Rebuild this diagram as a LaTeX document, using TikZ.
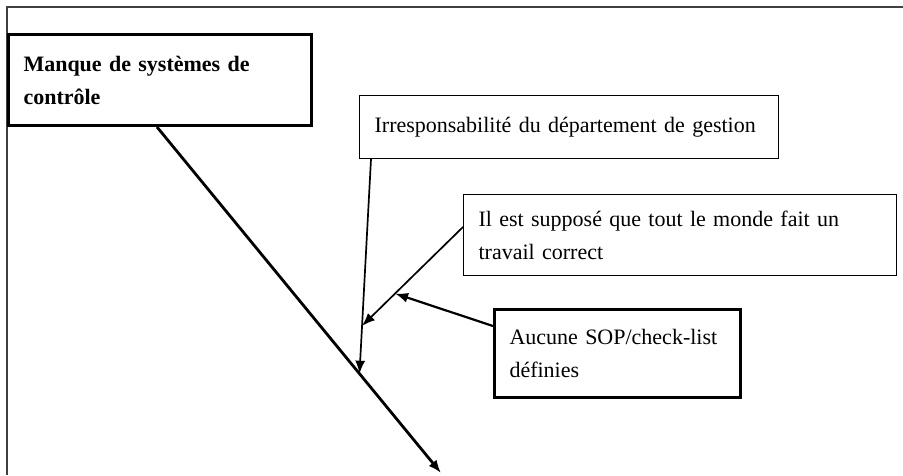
\documentclass[tikz,border=0pt]{standalone}
\usepackage{fontspec}
\setmainfont{Liberation Serif}
\usetikzlibrary{positioning, arrows.meta, calc}

\begin{document}
\begin{tikzpicture}[
        x=1pt, y=-1pt,
        cause/.style={rectangle, draw, line width=1.2pt, anchor=north west, align=left, inner xsep=15pt, inner ysep=0pt, font=\fontsize{22}{33}\selectfont},
        mainbox/.style={cause, line width=3pt, font=\bfseries\fontsize{22}{33}\selectfont},
        link/.style={-{Latex[length=13pt, width=10pt]}, line width=1.7pt}
    ]
    \useasboundingbox (0,0) rectangle (903,475);

    % Outer frame (right and bottom edges run off the page)
    \draw[line width=1.8pt, black!75] (7,475) -- (7,7) -- (903,7);

    % Cause boxes
    \node[mainbox, text width=273pt, minimum height=91pt] (lack) at (7,33) {Manque de systèmes de\\contrôle};
    \node[cause, text width=389pt, minimum height=63pt] (mgmt) at (359,95) {Irresponsabilité du département de gestion};
    \node[cause, text width=403pt, minimum height=81pt] (assume) at (463,194) {Il est supposé que tout le monde fait un\\travail correct};
    \node[cause, line width=3pt, text width=216pt, minimum height=88pt] (nosop) at (493,308) {Aucune SOP/check-list\\définies};

    % --------------------------------------------------
    % Spine and branches
    \coordinate (spineend) at (441,473);
    \draw[link, line width=2.8pt] ($(lack.south)+(-3,0)$) -- (spineend) coordinate[pos=0.713] (onspine);
    \draw[link] ($(mgmt.south west)+(12,0)$) -- (onspine) coordinate[pos=0.777] (onmgmt);
    \draw[link] ($(assume.north west)+(0,33)$) -- (onmgmt) coordinate[pos=0.673] (onassume);
    \draw[link, line width=2.2pt] ($(nosop.north west)+(0,18)$) -- (onassume);

\end{tikzpicture}
\end{document}
